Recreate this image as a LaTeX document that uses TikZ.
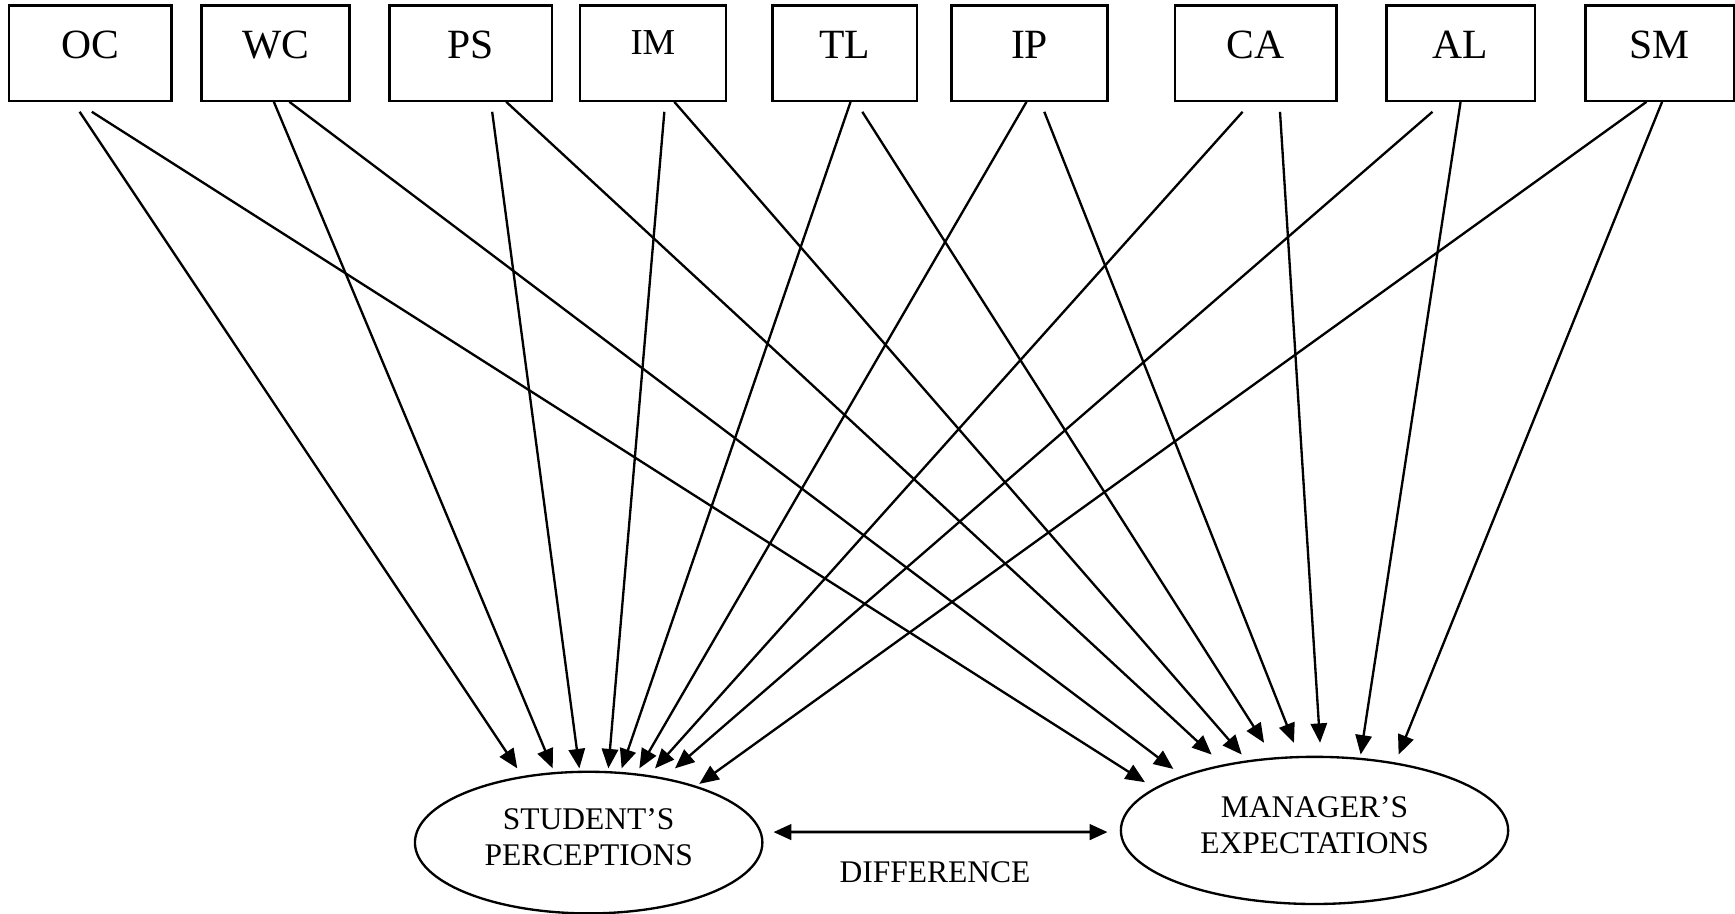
\documentclass[tikz,border=0pt]{standalone}
\usepackage{fontspec}
\setmainfont{Liberation Serif}
\usetikzlibrary{arrows.meta, shapes.geometric}
\tikzset{
  factor/.style={draw, line width=0.6pt, inner sep=0pt, minimum height=8.6mm, font=\fontsize{10.7}{12}\selectfont, text height=2.5mm, text depth=1.6mm},
  factorsm/.style={factor, font=\fontsize{9.4}{11}\selectfont, text height=2.2mm, text depth=1.9mm},
  outcome/.style={draw, ellipse, line width=0.6pt, inner sep=0pt, align=center, font=\fontsize{8.1}{9.3}\selectfont, text depth=1mm},
  arr/.style={-{Triangle[length=5pt,width=4.2pt]}, line width=0.6pt},
  gap/.style={{Triangle[length=4.6pt,width=4pt]}-{Triangle[length=4.6pt,width=4pt]}, line width=0.7pt},
}

\begin{document}
\begin{tikzpicture}[x=0.1mm, y=-0.1mm]
\useasboundingbox (0,0) rectangle (1568,826);
\foreach \nm/\lab/\cx/\w/\st in {oc/OC/81.5/14.7/factor, wc/WC/249/13.4/factor, ps/PS/425.5/14.7/factor, im/IM/590/13.2/factorsm, tl/TL/763.5/13.1/factor, ip/IP/930.5/14.1/factor, ca/CA/1135/14.6/factor, al/AL/1320/13.4/factor, sm/SM/1500/13.4/factor}
  \node[\st, minimum width=\w mm] (\nm) at (\cx,48) {\lab};
\node[outcome, minimum width=31.4mm, minimum height=12.8mm] (stu) at (532,761.5) {STUDENT'S\\PERCEPTIONS};
\node[outcome, minimum width=35mm, minimum height=13.3mm] (man) at (1188,750.5) {MANAGER'S\\EXPECTATIONS};
\node[font=\fontsize{8.1}{9.3}\selectfont, inner sep=0pt] (diff) at (845,788) {DIFFERENCE};
% factors to student's perceptions
\foreach \src/\sx/\sy/\tx/\ty in {oc/-9.5/9/-64.5/-2, wc/-1.5/0/-32.5/-2, ps/19.3/9/-8.4/-2, im/10.4/9/17.8/-2, tl/5.2/0/29.8/-2, ip/-2.8/0/45.8/-2, ca/-12/9/60/-2, al/-25.4/9/78/-2, sm/-12/0/100/12}
  \draw[arr] ([shift={(\sx,\sy)}]\src.south) -- ([shift={(\tx,\ty)}]stu.north);
% factors to manager's expectations
\foreach \src/\sx/\sy/\tx/\ty in {oc/1.5/9/-153.2/24, wc/12.5/0/-127.6/12, ps/32/0/-93/-1, im/19.4/0/-65.8/-1, tl/15.8/9/-45.6/-11.6, ip/13.3/9/-18.6/-11.6, ca/21.8/9/5/-11.6, al/0/0/41.7/-1, sm/2.1/0/76/-1}
  \draw[arr] ([shift={(\sx,\sy)}]\src.south) -- ([shift={(\tx,\ty)}]man.north);
\draw[gap] ([shift={(9,-9.5)}]stu.east) -- ([shift={(-11,1.5)}]man.west);
\end{tikzpicture}
\end{document}
